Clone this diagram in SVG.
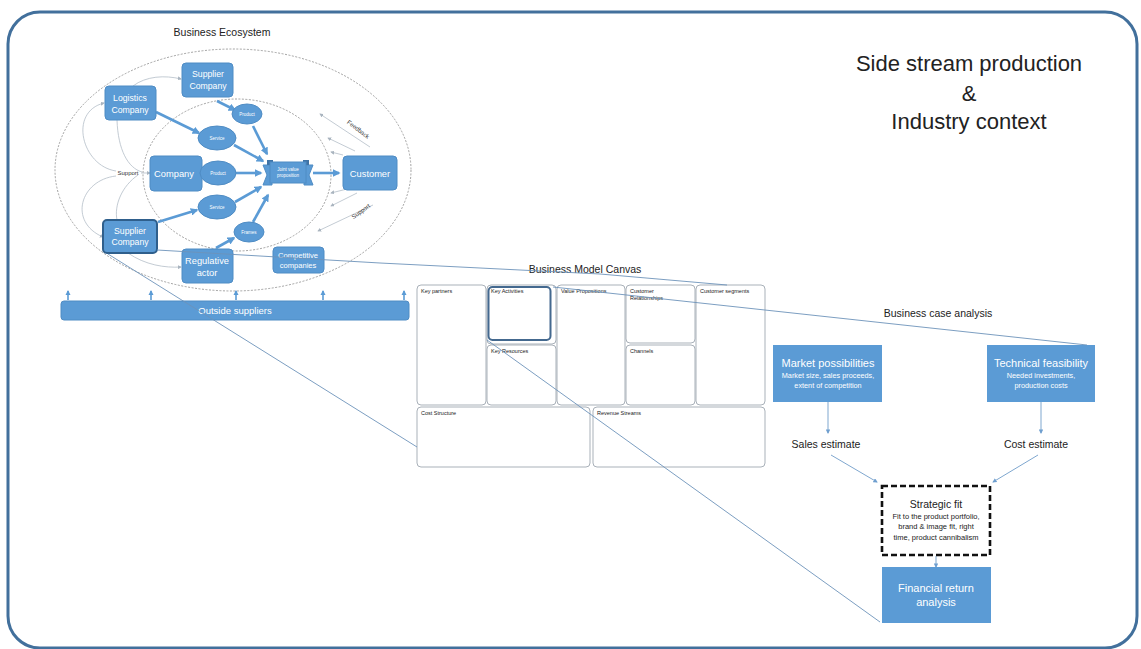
<svg xmlns="http://www.w3.org/2000/svg" width="1141" height="649" viewBox="0 0 1141 649">
<defs>
<style>
text { font-family: "Liberation Sans", Arial, sans-serif; }
.node { fill: #5b9bd5; stroke: #4f8cc4; stroke-width: 1; }
.lbl { fill: #fff; text-anchor: middle; }
.tiny { fill: #fff; text-anchor: middle; font-size: 4.5px; }
.dash { fill: none; stroke: #8c8c8c; stroke-width: 0.8; stroke-dasharray: 2 1.5; }
.flow { fill: none; stroke: #5b9bd5; stroke-width: 2.6; marker-end: url(#ah-thick); }
.thin { fill: none; stroke: #b4bec8; stroke-width: 0.8; }
.thina { fill: none; stroke: #b4bec8; stroke-width: 0.8; marker-end: url(#ah-gray); }
.zoom { fill: none; stroke: #6d93ba; stroke-width: 0.9; }
.cell { fill: #fff; stroke: #a9b1b9; stroke-width: 1; }
.cellt { fill: #222; font-size: 5.5px; }
.link { fill: none; stroke: #7fa7cf; stroke-width: 1; marker-end: url(#ah-blue); }
.up { fill: none; stroke: #5b9bd5; stroke-width: 1.6; marker-end: url(#ah-up); }
.head { fill: #222; text-anchor: middle; }
</style>
<marker id="ah-thick" viewBox="0 0 10 10" refX="8" refY="5" markerWidth="3" markerHeight="3" orient="auto"><path d="M0,0 L10,5 L0,10 z" fill="#5b9bd5"/></marker>
<marker id="ah-gray" viewBox="0 0 10 10" refX="8" refY="5" markerWidth="5" markerHeight="5" orient="auto"><path d="M0,0 L10,5 L0,10 z" fill="#a9b4bf"/></marker>
<marker id="ah-blue" viewBox="0 0 10 10" refX="8" refY="5" markerWidth="4.5" markerHeight="4.5" orient="auto"><path d="M0,0 L10,5 L0,10 z" fill="#6f9fcf"/></marker>
<marker id="ah-up" viewBox="0 0 10 10" refX="8" refY="5" markerWidth="3.2" markerHeight="3.2" orient="auto"><path d="M0,0 L10,5 L0,10 z" fill="#5b9bd5"/></marker>
</defs>

<!-- page background and outer frame -->
<rect x="0" y="0" width="1141" height="649" fill="#fff"/>
<rect x="8" y="12" width="1129" height="636" rx="32" fill="#fff" stroke="#42709c" stroke-width="3"/>

<!-- ===== Business ecosystem ===== -->
<text class="head" x="222" y="36" font-size="10.5">Business Ecosystem</text>
<ellipse class="dash" cx="233" cy="170" rx="178" ry="121"/>
<ellipse class="dash" cx="237" cy="175" rx="94" ry="76"/>

<g id="connectors">
  <!-- thin support / relation curves -->
  <path class="thina" d="M133,86 C146,76 165,75 181,79"/>
  <path class="thina" d="M116,171 C82,166 68,112 104,103"/>
  <path class="thin" d="M117,120 C118,150 128,168 142,172"/>
  <path class="thina" d="M141,173 L150,173"/>
  <path class="thin" d="M138,175 C122,186 114,205 117,220"/>
  <path class="thina" d="M116,176 C80,180 68,222 103,237"/>
  <path class="thina" d="M128,253 C145,265 165,268 181,267"/>
  <!-- feedback and support arrows around the customer -->
  <path class="thina" d="M370,147 L320,114"/>
  <path class="thina" d="M355,151 L328,138"/>
  <path class="thina" d="M343,155 L331,152"/>
  <path class="thina" d="M347,189 L331,193"/>
  <path class="thina" d="M357,193 L331,206"/>
  <path class="thina" d="M373,205 L318,231"/>
  <!-- value flows into the joint value proposition -->
  <path class="flow" d="M217,101 L235,110"/>
  <path class="flow" d="M156,112 L199,133"/>
  <path class="flow" d="M253,126 L267,154"/>
  <path class="flow" d="M234,145 L263,161"/>
  <path class="flow" d="M236,173 L261,173"/>
  <path class="flow" d="M313,173 L339,173"/>
  <path class="flow" d="M235,202 L261,187"/>
  <path class="flow" d="M253,222 L268,195"/>
  <path class="flow" d="M158,222 L197,210"/>
  <path class="flow" d="M216,248 L234,238"/>
  <!-- outside suppliers feed upward -->
  <path class="up" d="M68,300 L68,291"/>
  <path class="up" d="M151,300 L151,291"/>
  <path class="up" d="M236,300 L236,291"/>
  <path class="up" d="M323,300 L323,291"/>
  <path class="up" d="M404,300 L404,291"/>
  <!-- business case arrows -->
  <path class="link" d="M828,402 L828,433"/>
  <path class="link" d="M1041,402 L1041,433"/>
  <path class="link" d="M831,455 L877,482"/>
  <path class="link" d="M1038,455 L993,482"/>
  <path class="link" d="M936,556 L936,567"/>
</g>

<g id="supplier-top">
  <rect class="node" x="182" y="63" width="51" height="34" rx="4"/>
  <text class="lbl" x="208" y="77" style="font-size:8.7px">Supplier</text>
  <text class="lbl" x="208" y="88.5" style="font-size:8.7px">Company</text>
</g>
<g id="logistics">
  <rect class="node" x="105" y="86" width="51" height="34" rx="4"/>
  <text class="lbl" x="130" y="101" style="font-size:8.7px">Logistics</text>
  <text class="lbl" x="130" y="112.5" style="font-size:8.7px">Company</text>
</g>
<g id="company">
  <rect class="node" x="150" y="156" width="52" height="35" rx="4"/>
  <text class="lbl" x="174" y="177" style="font-size:9.3px">Company</text>
</g>
<g id="product-company">
  <ellipse class="node" cx="218" cy="173" rx="18" ry="12"/>
  <text class="tiny" x="218" y="175">Product</text>
</g>
<g id="product-top">
  <ellipse class="node" cx="247" cy="114" rx="15" ry="10"/>
  <text class="tiny" x="247" y="116">Product</text>
</g>
<g id="service-top">
  <ellipse class="node" cx="217" cy="138" rx="19" ry="12"/>
  <text class="tiny" x="217" y="140">Service</text>
</g>
<g id="service-bottom">
  <ellipse class="node" cx="217" cy="207" rx="19" ry="12"/>
  <text class="tiny" x="217" y="209">Service</text>
</g>
<g id="frames">
  <ellipse class="node" cx="249" cy="232" rx="15" ry="10"/>
  <text class="tiny" x="249" y="234">Frames</text>
</g>
<g id="joint-value">
  <path class="node" d="M263,165 L272,165 L272,185 L263,185 L267,175 z"/>
  <path class="node" d="M313,165 L304,165 L304,185 L313,185 L309,175 z"/>
  <rect x="267" y="160" width="6" height="5" fill="#3f73a6"/>
  <rect x="303" y="160" width="6" height="5" fill="#3f73a6"/>
  <rect class="node" x="270" y="162" width="36" height="21"/>
  <text class="tiny" x="288" y="171">Joint value</text>
  <text class="tiny" x="288" y="177">proposition</text>
</g>
<g id="customer">
  <rect class="node" x="343" y="156" width="54" height="34" rx="4"/>
  <text class="lbl" x="370" y="177" style="font-size:9.3px">Customer</text>
</g>
<g id="supplier-bottom">
  <rect class="node" x="103" y="220" width="54" height="33" rx="4" style="stroke:#2f5f8c;stroke-width:2"/>
  <text class="lbl" x="130" y="233.5" style="font-size:8.7px">Supplier</text>
  <text class="lbl" x="130" y="245" style="font-size:8.7px">Company</text>
</g>
<g id="regulative">
  <rect class="node" x="182" y="249" width="51" height="34" rx="4"/>
  <text class="lbl" x="207" y="264" style="font-size:9.3px">Regulative</text>
  <text class="lbl" x="207" y="276" style="font-size:9.3px">actor</text>
</g>
<g id="competitive">
  <rect class="node" x="273" y="247" width="51" height="26" rx="4"/>
  <text class="lbl" x="298" y="258" style="font-size:7.6px">Competitive</text>
  <text class="lbl" x="298" y="268" style="font-size:7.6px">companies</text>
</g>
<g id="outside-suppliers">
  <rect class="node" x="61" y="301" width="348" height="19" rx="3"/>
  <text class="lbl" x="235" y="314" style="font-size:9.5px">Outside suppliers</text>
</g>
<g id="eco-labels">
  <text x="128" y="175" font-size="6" fill="#333" text-anchor="middle">Support</text>
  <text x="357" y="131" font-size="6" fill="#333" text-anchor="middle" transform="rotate(38 357 131)">Feedback</text>
  <text x="362" y="213" font-size="6" fill="#333" text-anchor="middle" transform="rotate(-36 362 213)">Support</text>
</g>

<!-- ===== Business Model Canvas ===== -->
<text class="head" x="585" y="273" font-size="10.5">Business Model Canvas</text>
<g id="canvas">
  <rect class="cell" x="417" y="285" width="69" height="120" rx="4"/>
  <rect class="cell" x="487" y="285" width="69" height="59" rx="4"/>
  <rect x="488.5" y="287" width="62" height="53" rx="4" fill="none" stroke="#44698f" stroke-width="2"/>
  <rect class="cell" x="487" y="345" width="69" height="60" rx="4"/>
  <rect class="cell" x="557" y="285" width="68" height="120" rx="4"/>
  <rect class="cell" x="626" y="285" width="69" height="58" rx="4"/>
  <rect class="cell" x="626" y="345" width="69" height="60" rx="4"/>
  <rect class="cell" x="696" y="285" width="69" height="120" rx="4"/>
  <rect class="cell" x="417" y="407" width="173" height="60" rx="4"/>
  <rect class="cell" x="593" y="407" width="172" height="60" rx="4"/>
  <text class="cellt" x="421" y="293">Key partners</text>
  <text class="cellt" x="491" y="293">Key Activities</text>
  <text class="cellt" x="561" y="293">Value Propositions</text>
  <text class="cellt" x="630" y="293">Customer</text>
  <text class="cellt" x="630" y="300">Relationships</text>
  <text class="cellt" x="700" y="293">Customer segments</text>
  <text class="cellt" x="491" y="353">Key Resources</text>
  <text class="cellt" x="630" y="353">Channels</text>
  <text class="cellt" x="421" y="415">Cost Structure</text>
  <text class="cellt" x="597" y="415">Revenue Streams</text>
</g>

<!-- ===== Business case ===== -->
<g id="title">
  <text class="head" x="969" y="71" font-size="22">Side stream production</text>
  <text class="head" x="969" y="101" font-size="22">&amp;</text>
  <text class="head" x="969" y="129" font-size="22">Industry context</text>
</g>
<text class="head" x="938" y="317" font-size="10.5">Business case analysis</text>
<g id="market">
  <rect x="773" y="345" width="109" height="57" fill="#5b9bd5"/>
  <text class="lbl" x="828" y="367" style="font-size:11px">Market possibilities</text>
  <text class="lbl" x="828" y="378" style="font-size:7.3px">Market size, sales proceeds,</text>
  <text class="lbl" x="828" y="388" style="font-size:7.3px">extent of competition</text>
</g>
<g id="technical">
  <rect x="987" y="345" width="108" height="57" fill="#5b9bd5"/>
  <text class="lbl" x="1041" y="367" style="font-size:11px">Technical feasibility</text>
  <text class="lbl" x="1041" y="378" style="font-size:7.3px">Needed investments,</text>
  <text class="lbl" x="1041" y="388" style="font-size:7.3px">production costs</text>
</g>
<g id="sales-estimate">
  <text class="head" x="826" y="448" font-size="10.5">Sales estimate</text>
</g>
<g id="cost-estimate">
  <text class="head" x="1036" y="448" font-size="10.5">Cost estimate</text>
</g>
<g id="strategic-fit">
  <rect x="882" y="486" width="108" height="69" fill="#fff" stroke="#111" stroke-width="2.6" stroke-dasharray="6 3"/>
  <text class="head" x="936" y="508" font-size="10.5">Strategic fit</text>
  <text class="head" x="936" y="518.5" font-size="7.5">Fit to the product portfolio,</text>
  <text class="head" x="936" y="529" font-size="7.5">brand &amp; image fit, right</text>
  <text class="head" x="936" y="539.5" font-size="7.5">time, product cannibalism</text>
</g>
<g id="financial">
  <rect x="882" y="567" width="109" height="56" fill="#5b9bd5"/>
  <text class="lbl" x="936" y="592" style="font-size:11px">Financial return</text>
  <text class="lbl" x="936" y="606" style="font-size:11px">analysis</text>
</g>

<!-- zoom guide lines linking the three views -->
<g id="guides">
  <path class="zoom" d="M157,250 L380,263 L600,274 L727,285"/>
  <path class="zoom" d="M553,287 L1087,345"/>
  <path class="zoom" d="M108,254 L417,447"/>
  <path class="zoom" d="M487,340 L880,622"/>
</g>
</svg>
